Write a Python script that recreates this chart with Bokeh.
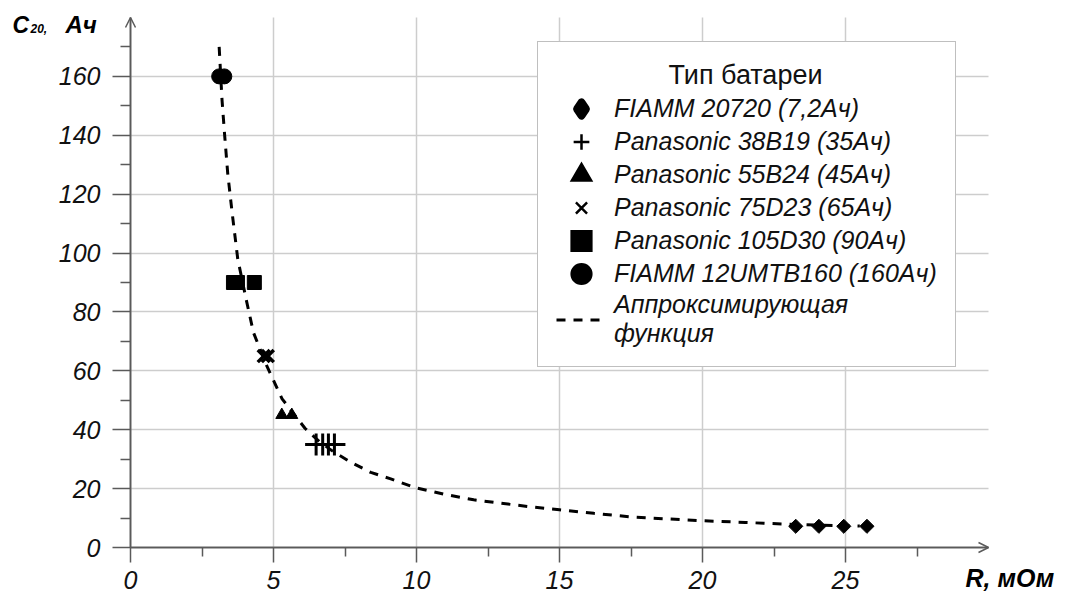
import math
from bokeh.plotting import figure
from bokeh.models import (Range1d, FixedTicker, Legend, LegendItem, Label, Arrow, OpenHead,
                          Grid, LinearAxis)
from bokeh.embed import file_html
from bokeh.resources import INLINE

# ---------------- data ----------------
series_labels = [
    "FIAMM 20720 (7,2Ач)",
    "Panasonic 38B19 (35Ач)",
    "Panasonic 55B24 (45Ач)",
    "Panasonic 75D23 (65Ач)",
    "Panasonic 105D30 (90Ач)",
    "FIAMM 12UMTB160 (160Ач)",
]
fit_label = "Аппроксимирующая\nфункция"

fiamm20720_r = [23.26, 24.07, 24.94, 25.75]
fiamm20720_c = [7.2, 7.2, 7.2, 7.2]
pan38b19_r = [6.49, 6.72, 6.92, 7.13]
pan38b19_c = [35, 35, 35, 35]
pan55b24_r = [5.29, 5.64]
pan55b24_c = [45, 45]
pan75d23_r = [4.66, 4.80]
pan75d23_c = [65, 65]
pan105d30_r = [3.60, 3.74, 4.33]
pan105d30_c = [90, 90, 90]
fiamm12umtb160_r = [3.10, 3.28]
fiamm12umtb160_c = [160, 160]

fit_r = [3.10, 3.20, 3.30, 3.40, 3.55, 3.75, 4.05, 4.30, 4.75, 5.30, 6.10, 6.60,
         7.10, 7.70, 8.40, 9.10, 10.0, 11.0, 12.0, 12.9, 14.0, 15.0, 16.2, 17.5,
         18.8, 20.0, 21.5, 22.8, 24.0, 25.5]
fit_c = [170, 152, 139, 127, 114, 98, 84, 73, 62, 50.5, 40.5, 36,
         32.5, 29, 25.5, 23.3, 20.2, 18.0, 16.2, 15.1, 13.8, 12.8, 11.6, 10.4,
         9.7, 9.1, 8.5, 8.0, 7.6, 7.3]

x_ticks = [0, 5, 10, 15, 20, 25]
x_minor = [2.5, 7.5, 12.5, 17.5, 22.5, 27.5]
y_ticks = [0, 20, 40, 60, 80, 100, 120, 140, 160]
y_minor = [10, 30, 50, 70, 90, 110, 130, 150, 170]
x_label = "R, мОм"
y_label_main = "C"
y_label_sub = "20,"
y_label_unit = "Ач"
legend_title = "Тип батареи"

# ---------------- layout ----------------
W, H = 1067, 592
AX_X0, AX_X1, AX_Y0, AX_Y1 = 0, 30, 0, 180     # visible axes extent
ORIGIN_PX, ORIGIN_PY = 130, 547                  # pixel position of the origin
XPX = 858 / 30                                   # pixels per x unit
YPX = 530 / 180                                  # pixels per y unit


def dx(px):
    return (px - ORIGIN_PX) / XPX


def dy(py):
    return (ORIGIN_PY - py) / YPX


AXIS = "#5a5a5a"
GRID = "#cdcdcd"
FONT = "Liberation Sans"
TXT = "#111111"

p = figure(width=W, height=H, x_range=Range1d(dx(0), dx(W)), y_range=Range1d(dy(H), dy(0)),
           output_backend="svg", toolbar_location=None,
           min_border_left=0, min_border_right=0, min_border_top=0, min_border_bottom=0)
p.outline_line_color = None
p.background_fill_color = "white"
p.border_fill_color = "white"

for ax in (p.xaxis[0], p.yaxis[0]):
    ax.fixed_location = 0
    ax.axis_line_color = AXIS
    ax.axis_line_width = 1.5
    ax.major_tick_line_color = AXIS
    ax.major_tick_line_width = 1.5
    ax.minor_tick_line_color = AXIS
    ax.minor_tick_line_width = 1.5
    ax.major_tick_in = 0
    ax.minor_tick_in = 0
    ax.major_label_text_font = FONT
    ax.major_label_text_font_style = "italic"
    ax.major_label_text_font_size = "25px"
    ax.major_label_text_color = TXT

p.xaxis.bounds = (AX_X0, AX_X1)
p.xaxis.ticker = FixedTicker(ticks=x_ticks, minor_ticks=x_minor)
p.xaxis.major_tick_out = 15
p.xaxis.minor_tick_out = 9
p.xaxis.major_label_standoff = 8
p.yaxis.bounds = (AX_Y0, AX_Y1)
p.yaxis.ticker = FixedTicker(ticks=y_ticks, minor_ticks=y_minor)
p.yaxis.major_tick_out = 18
p.yaxis.minor_tick_out = 10
p.yaxis.major_label_standoff = 12

if "cross_bounds" in Grid.properties():
    p.xgrid.bounds = (AX_X0, AX_X1)
    p.xgrid.cross_bounds = (AX_Y0, AX_Y1)
    p.ygrid.bounds = (AX_Y0, AX_Y1)
    p.ygrid.cross_bounds = (AX_X0, AX_X1)
    for g in (p.xgrid[0], p.ygrid[0]):
        g.grid_line_color = GRID
        g.grid_line_width = 1.5
else:
    p.xgrid.visible = False
    p.ygrid.visible = False
    gx = LinearAxis(ticker=FixedTicker(ticks=x_ticks[1:]), fixed_location=0,
                    major_tick_in=int(round((AX_Y1 - AX_Y0) * YPX)), major_tick_out=0,
                    major_tick_line_color=GRID, major_tick_line_width=1.5,
                    minor_tick_line_color=None, axis_line_color=None,
                    major_label_text_font_size="0px", level="underlay")
    gy = LinearAxis(ticker=FixedTicker(ticks=y_ticks[1:]), fixed_location=0,
                    major_tick_in=int(round((AX_X1 - AX_X0) * XPX)), major_tick_out=0,
                    major_tick_line_color=GRID, major_tick_line_width=1.5,
                    minor_tick_line_color=None, axis_line_color=None,
                    major_label_text_font_size="0px", level="underlay")
    p.add_layout(gx, "below")
    p.add_layout(gy, "left")

# axis arrows
p.add_layout(Arrow(x_start=AX_X0, y_start=AX_Y0, x_end=AX_X0, y_end=AX_Y1,
                   end=OpenHead(size=10, line_color=AXIS, line_width=1.5),
                   line_color=AXIS, line_width=1.5))
p.add_layout(Arrow(x_start=AX_X0, y_start=AX_Y0, x_end=AX_X1, y_end=AX_Y0,
                   end=OpenHead(size=10, line_color=AXIS, line_width=1.5),
                   line_color=AXIS, line_width=1.5))

# ---------------- glyphs ----------------
fit = p.line(fit_r, fit_c, line_color="black", line_width=3, line_dash="9 8")
r1 = p.scatter(fiamm20720_r, fiamm20720_c, marker="square", angle=math.pi / 4, size=10,
               fill_color="black", line_color="black")
r2 = p.scatter(pan38b19_r, pan38b19_c, marker="cross", size=22, line_color="black", line_width=3)
r3 = p.scatter(pan55b24_r, pan55b24_c, marker="triangle", size=12, fill_color="black", line_color="black")
r4 = p.scatter(pan75d23_r, pan75d23_c, marker="x", size=17, line_color="black", line_width=3.5)
r5 = p.scatter(pan105d30_r, pan105d30_c, marker="square", size=14, fill_color="black", line_color="black")
r6 = p.scatter(fiamm12umtb160_r, fiamm12umtb160_c, marker="circle", size=15,
               fill_color="black", line_color="black")

# legend-only (hidden) twins of the series, styled so the legend swatches read larger
lg1 = p.scatter(fiamm20720_r, fiamm20720_c, marker="diamond", size=10, fill_color="black",
                line_color="black", line_width=8, line_join="round", visible=False)
lg2 = p.scatter(pan38b19_r, pan38b19_c, marker="cross", size=10, line_color="black",
                line_width=2.5, line_cap="square", visible=False)
lg3 = p.scatter(pan55b24_r, pan55b24_c, marker="triangle", size=10, fill_color="black",
                line_color="black", line_width=6, line_join="miter", visible=False)
lg4 = p.scatter(pan75d23_r, pan75d23_c, marker="x", size=10, line_color="black",
                line_width=2.5, line_cap="square", visible=False)
lg5 = p.scatter(pan105d30_r, pan105d30_c, marker="square", size=10, fill_color="black",
                line_color="black", line_width=9, line_join="miter", visible=False)
lg6 = p.scatter(fiamm12umtb160_r, fiamm12umtb160_c, marker="circle", size=10, fill_color="black",
                line_color="black", line_width=9, visible=False)

renderers = [lg1, lg2, lg3, lg4, lg5, lg6]
items = [LegendItem(label=lab, renderers=[r]) for lab, r in zip(series_labels, renderers)]
items.append(LegendItem(label=fit_label, renderers=[fit]))

legend = Legend(items=items, location=(537, 225), margin=0,
                title="\u00a0" * 15 + legend_title, title_text_font=FONT,
                title_text_font_style="normal", title_text_font_size="27px",
                title_text_color=TXT, title_standoff=1,
                glyph_width=50, glyph_height=33, spacing=0, padding=18, label_standoff=8,
                label_text_font=FONT, label_text_font_style="italic",
                label_text_font_size="25px", label_text_line_height=0.95,
                label_text_color=TXT,
                border_line_color="#808080", border_line_width=1.5,
                background_fill_color="white", background_fill_alpha=1.0)
p.add_layout(legend)

# ---------------- axis titles ----------------
p.add_layout(Label(x=dx(12), y=dy(24), text=y_label_main, text_align="left",
                   text_baseline="alphabetic", text_font=FONT, text_font_style="bold italic",
                   text_font_size="23px", text_color="black"))
p.add_layout(Label(x=dx(30), y=dy(28), text=y_label_sub, text_align="left",
                   text_baseline="alphabetic", text_font=FONT, text_font_style="bold italic",
                   text_font_size="12px", text_color="black"))
p.add_layout(Label(x=dx(65), y=dy(24), text=y_label_unit, text_align="left",
                   text_baseline="alphabetic", text_font=FONT, text_font_style="bold italic",
                   text_font_size="24px", text_color="black"))
p.add_layout(Label(x=dx(965), y=dy(577), text=x_label, text_align="left",
                   text_baseline="alphabetic", text_font=FONT, text_font_style="bold italic",
                   text_font_size="25px", text_color="black"))

open("out.html", "w").write(file_html(p, INLINE))
